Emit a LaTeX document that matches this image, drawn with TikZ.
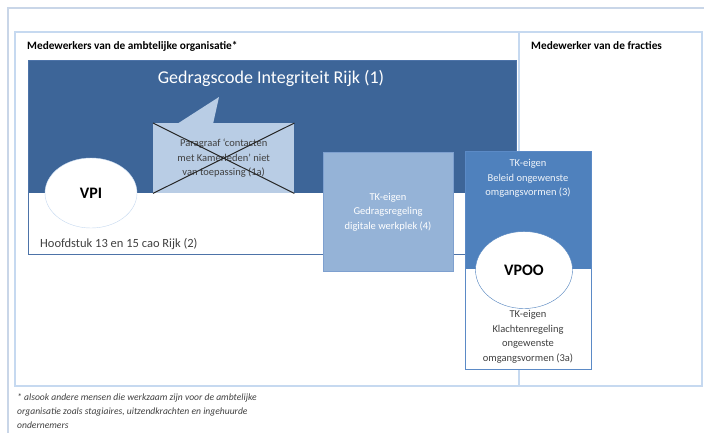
\documentclass[tikz,border=0pt]{standalone}
\usepackage{fontspec}
\setmainfont{Carlito}
\usetikzlibrary{shapes.geometric}
\definecolor{kaderblauw}{HTML}{C6D9F0}
\definecolor{kaderlicht}{HTML}{C9D6E8}
\definecolor{donkerblauw}{HTML}{3D6598}
\definecolor{donkerrand}{HTML}{4D73A8}
\definecolor{calloutblauw}{HTML}{B9CDE5}
\definecolor{lichtblauw}{HTML}{95B3D7}
\definecolor{lichtrand}{HTML}{7EA0CF}
\definecolor{middenblauw}{HTML}{4F81BD}
\definecolor{middenrand}{HTML}{5B8AC6}
\definecolor{grijs}{HTML}{404040}
\begin{document}
\begin{tikzpicture}[x=1pt,y=-1pt,
  kader/.style={draw=kaderblauw, line width=1.8pt},
  vak/.style={rectangle, inner sep=0pt, anchor=north west},
  tekst/.style={align=center, inner sep=0pt, font=\fontsize{10.5}{14.5}\selectfont},
  kop/.style={anchor=west, inner sep=0pt, font=\fontsize{11.3}{13}\selectfont\bfseries},
  ovaal/.style={ellipse, fill=white, inner sep=0pt, font=\fontsize{16}{18}\selectfont\bfseries}]
  \useasboundingbox (0,0) rectangle (704,434);
  % kaders
  \draw[kaderlicht, line width=1.2pt] (704,8) -- (8,8) -- (8,433);
  \draw[kader] (15,32) rectangle (702,386);
  \draw[kader] (519,32) -- (519,386);
  \node[kop] (kopambt) at (27,46) {Medewerkers van de ambtelijke organisatie*};
  \node[kop] (kopfrac) at (531,46) {Medewerker van de fracties};
  % gedragscode
  \fill[donkerblauw] (28,60) rectangle (516,193);
  \node[vak, draw=donkerrand, minimum width=488, minimum height=194] (gir) at (28,60) {};
  \node[inner sep=0pt, text=white, font=\fontsize{18}{20}\selectfont] (girtekst) at (271,78) {Gedragscode Integriteit Rijk (1)};
  % paragraaf (doorgestreept)
  \fill[calloutblauw] (177,124) -- (219,97) -- (213,124) -- cycle;
  \node[vak, fill=calloutblauw, minimum width=141, minimum height=70] (par) at (153,123) {};
  \node[tekst, text=grijs] (partekst) at (par.center) {Paragraaf ‘contacten\\met Kamerleden’ niet\\van toepassing (1a)};
  \draw[line width=1pt, black!85] (par.north west) -- (par.south east) (par.north east) -- (par.south west);
  \node[ovaal, draw=kaderblauw, minimum width=92, minimum height=70] (vpi) at (91,193) {VPI};
  \node[anchor=west, inner sep=0pt, text=grijs, font=\fontsize{12.5}{14}\selectfont] (hfd) at (40,244) {Hoofdstuk 13 en 15 cao Rijk (2)};
  % digitale werkplek
  \node[vak, fill=lichtblauw, draw=lichtrand, minimum width=130, minimum height=119] (dwp) at (323,152) {};
  \node[tekst, text=white] (dwptekst) at (388,212) {TK-eigen\\Gedragsregeling\\digitale werkplek (4)};
  % ongewenste omgangsvormen
  \node[vak, fill=white, draw=middenrand, minimum width=126, minimum height=218] (tk) at (465,151) {};
  \fill[middenblauw] (465.5,151.5) rectangle (590.5,269);
  \node[tekst, text=white!92!middenblauw] (tktekst) at (528,178.5) {TK-eigen\\Beleid ongewenste\\omgangsvormen (3)};
  \node[ovaal, draw=middenblauw, minimum width=97, minimum height=77] (vpoo) at (524,270) {VPOO};
  \node[tekst, text=grijs] (klacht) at (528,337) {TK-eigen\\Klachtenregeling\\ongewenste\\omgangsvormen (3a)};
  % voetnoot
  \node[anchor=north west, align=left, inner sep=0pt, text=grijs, font=\fontsize{9.6}{13.8}\selectfont\itshape] (voetnoot) at (17,393.5) {* alsook andere mensen die werkzaam zijn voor de ambtelijke\\organisatie zoals stagiaires, uitzendkrachten en ingehuurde\\ondernemers};
\end{tikzpicture}
\end{document}
